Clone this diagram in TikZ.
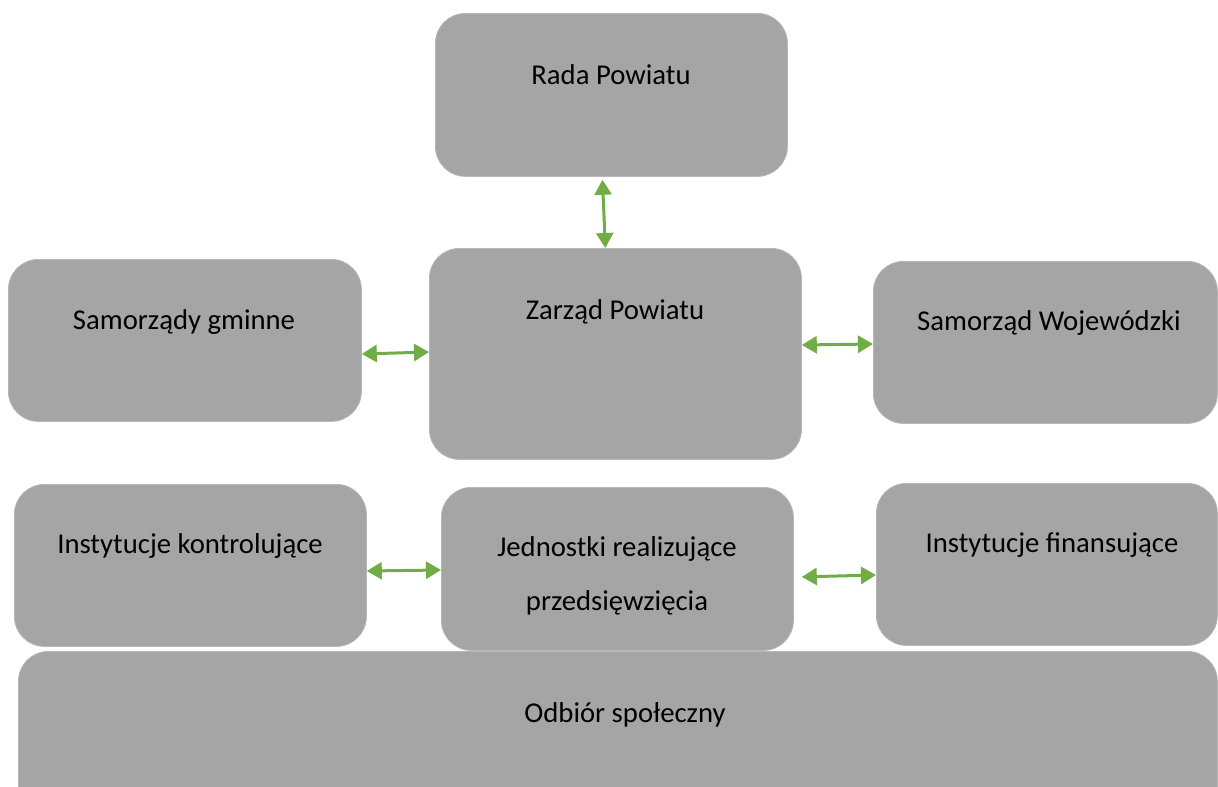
\documentclass[tikz,border=0pt]{standalone}
\usepackage{fontspec}
\setmainfont{Carlito}
\usetikzlibrary{arrows.meta,calc}
\definecolor{boxgray}{HTML}{A5A5A5}
\definecolor{arrgreen}{HTML}{70AD47}
\tikzset{
  box/.style={fill=boxgray,draw=boxgray!80!white,line width=0.8pt,rounded corners=30pt,inner sep=0pt,anchor=north west},
  lbl/.style={font=\fontsize{28.7}{34}\selectfont,text=black,inner sep=0pt,align=center},
  conn/.style={draw=arrgreen,line width=3pt,{Triangle[length=15pt,width=17pt]}-{Triangle[length=15pt,width=17pt]},shorten <=0pt,shorten >=0pt}
}
\begin{document}
\begin{tikzpicture}[x=1pt,y=-1pt]
\useasboundingbox (0,0) rectangle (1218,787);
\clip (0,0) rectangle (1218,787);
\node[box,minimum width=352pt,minimum height=163pt] (rp) at (435,13) {};
\node[box,minimum width=372pt,minimum height=211pt] (zp) at (429,248) {};
\node[box,minimum width=353pt,minimum height=162pt] (sg) at (8,259) {};
\node[box,minimum width=344pt,minimum height=162pt] (sw) at (873,261) {};
\node[box,minimum width=352pt,minimum height=162pt] (ik) at (14,484) {};
\node[box,minimum width=352pt,minimum height=163pt] (jr) at (441,487) {};
\node[box,minimum width=341pt,minimum height=162pt] (if) at (876,483) {};
\node[box,minimum width=1199pt,minimum height=180pt] (os) at (18,651) {};

\node[lbl] (trp) at (611,75) {Rada Powiatu};
\node[lbl] (tzp) at (615,312) {Zarząd Powiatu};
\node[lbl] (tsg) at (184,322) {Samorządy gminne};
\node[lbl] (tsw) at (1049,323) {Samorząd Wojewódzki};
\node[lbl] (tik) at (190,546) {Instytucje kontrolujące};
\node[lbl,font=\fontsize{28.7}{54}\selectfont] (tjr) at (617,576) {Jednostki realizujące\\przedsięwzięcia};
\node[lbl] (tif) at (1052,545) {Instytucje finansujące};
\node[lbl] (tos) at (625,715) {Odbiór społeczny};

\draw[conn] ($(rp.south)+(-9,3)$) -- ($(zp.north)+(-10,0)$);
\draw[conn] (sg.east |- 0,354) -- (zp.west |- 0,352);
\draw[conn] (zp.east |- 0,345) -- (sw.west |- 0,344);
\draw[conn] (ik.east |- 0,571) -- (jr.west |- 0,570);
\draw[conn] ($(jr.east)+(8,8)$) -- (if.west |- 0,575);
\end{tikzpicture}
\end{document}
